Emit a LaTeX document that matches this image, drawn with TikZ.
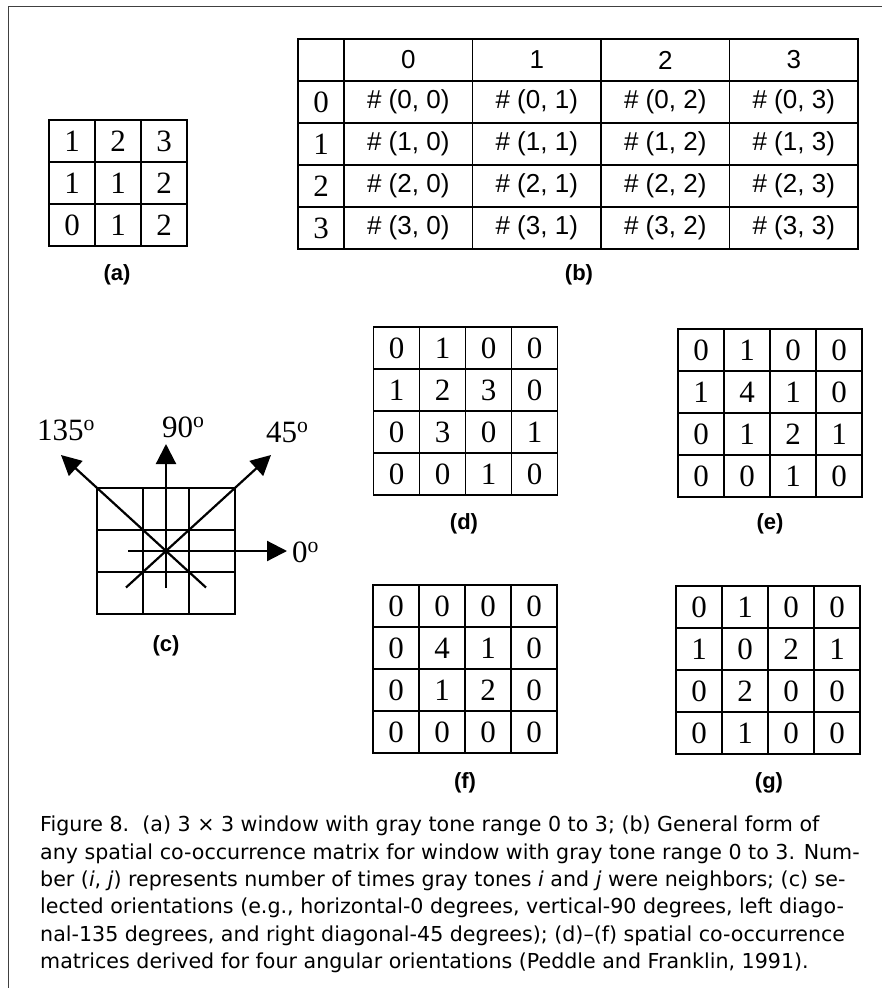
\documentclass[tikz,border=0pt]{standalone}
\usepackage{fontspec}
\setmainfont{Liberation Serif}
\setsansfont{Liberation Sans}
\newfontfamily\captionfont[Ligatures=TeX]{DejaVu Sans}
\usetikzlibrary{arrows.meta}

\tikzset{
  gridcell/.style={draw, line width=1.8pt, minimum width=46pt, minimum height=42pt,
    inner sep=0pt, font=\fontsize{31}{31}\selectfont},
  widecell/.style={gridcell, minimum width=128.5pt, font=\sffamily\fontsize{26}{26}\selectfont},
  sublabel/.style={font=\sffamily\bfseries\fontsize{22}{22}\selectfont},
  dirarrow/.style={line width=2.2pt, -{Triangle[length=20pt,width=20pt]}},
  degree/.style={anchor=base west, inner sep=0pt, font=\fontsize{31}{31}\selectfont},
}

\begin{document}
\begin{tikzpicture}[x=1pt, y=-1pt]
    \useasboundingbox (0,0) rectangle (882,988);
    % Frame
    \draw[line width=1pt, black!75] (882,6) -- (8,6) -- (8,988);

    % (a) 3x3 window
    \foreach \row [count=\i] in {{1,2,3},{1,1,2},{0,1,2}}
      \foreach \v [count=\j] in \row
        \node[gridcell] (a-\i-\j) at ({26+46*\j}, {99+42*\i}) {\v};
    \node[sublabel] (lab-a) at (117,275) {(a)};

    % (b) general form
    \node[gridcell] (b-corner) at (321,60) {};
    \foreach \j in {0,...,3} {
      \node[widecell] (b-h-\j) at ({408.25+128.5*\j}, 60) {\j};
      \node[gridcell] (b-\j-h) at (321, {102+42*\j}) {\j};
    }
    \foreach \i in {0,...,3}
      \foreach \j in {0,...,3}
        \node[widecell] (b-\i-\j) at ({408.25+128.5*\j}, {102+42*\i}) {\# (\i, \j)};
    \node[sublabel] (lab-b) at (579,275) {(b)};

    % (c) orientations
    \foreach \i in {1,2,3}
      \foreach \j in {1,2,3}
        \node[gridcell, line width=2pt] (c-\i-\j) at ({74+46*\j}, {467+42*\i}) {};
    \coordinate (tail0) at (128,551);
    \coordinate (tip0) at (287,551);
    \coordinate (tail90) at (166,588);
    \coordinate (tip90) at (166,444);
    \coordinate (tail45) at (126,587.5);
    \coordinate (tip45) at (271,455);
    \coordinate (tail135) at (206,587.5);
    \coordinate (tip135) at (61,455);
    \draw[dirarrow] (tail0) -- (tip0);
    \draw[dirarrow] (tail90) -- (tip90);
    \draw[dirarrow] (tail45) -- (tip45);
    \draw[dirarrow] (tail135) -- (tip135);
    \node[degree] (deg135) at (37,440) {135\textsuperscript{o}};
    \node[degree] (deg90) at (162,437) {90\textsuperscript{o}};
    \node[degree] (deg45) at (266,442) {45\textsuperscript{o}};
    \node[degree] (deg0) at (292,562) {0\textsuperscript{o}};
    \node[sublabel] (lab-c) at (166,646) {(c)};

    % (d)
    \begin{scope}[shift={(350.5,306)}]
      \foreach \row [count=\i] in {{0,1,0,0},{1,2,3,0},{0,3,0,1},{0,0,1,0}}
        \foreach \v [count=\j] in \row
          \node[gridcell] (d-\i-\j) at ({46*\j}, {42*\i}) {\v};
    \end{scope}
    \node[sublabel] (lab-d) at (464,524) {(d)};

    % (e)
    \begin{scope}[shift={(655,308)}]
      \foreach \row [count=\i] in {{0,1,0,0},{1,4,1,0},{0,1,2,1},{0,0,1,0}}
        \foreach \v [count=\j] in \row
          \node[gridcell] (e-\i-\j) at ({46*\j}, {42*\i}) {\v};
    \end{scope}
    \node[sublabel] (lab-e) at (770,524) {(e)};

    % (f)
    \begin{scope}[shift={(350,564)}]
      \foreach \row [count=\i] in {{0,0,0,0},{0,4,1,0},{0,1,2,0},{0,0,0,0}}
        \foreach \v [count=\j] in \row
          \node[gridcell] (f-\i-\j) at ({46*\j}, {42*\i}) {\v};
    \end{scope}
    \node[sublabel] (lab-f) at (465,783) {(f)};

    % (g)
    \begin{scope}[shift={(653,565)}]
      \foreach \row [count=\i] in {{0,1,0,0},{1,0,2,1},{0,2,0,0},{0,1,0,0}}
        \foreach \v [count=\j] in \row
          \node[gridcell] (g-\i-\j) at ({46*\j}, {42*\i}) {\v};
    \end{scope}
    \node[sublabel] (lab-g) at (769,783) {(g)};

    % Caption
    \node[anchor=north west, inner sep=0pt, align=left,
      font=\captionfont\fontsize{20.6}{27.3}\selectfont] (caption) at (40,816) {%
      Figure 8.\ \ (a) 3 × 3 window with gray tone range 0 to 3; (b) General form of\\
      any spatial co-occurrence matrix for window with gray tone range 0 to 3. Num-\\
      ber (\textit{i}, \textit{j}) represents number of times gray tones \textit{i} and \textit{j} were neighbors; (c) se-\\
      lected orientations (e.g., horizontal-0 degrees, vertical-90 degrees, left diago-\\
      nal-135 degrees, and right diagonal-45 degrees); (d)--(f) spatial co-occurrence\\
      matrices derived for four angular orientations (Peddle and Franklin, 1991).};
  \end{tikzpicture}
\end{document}
